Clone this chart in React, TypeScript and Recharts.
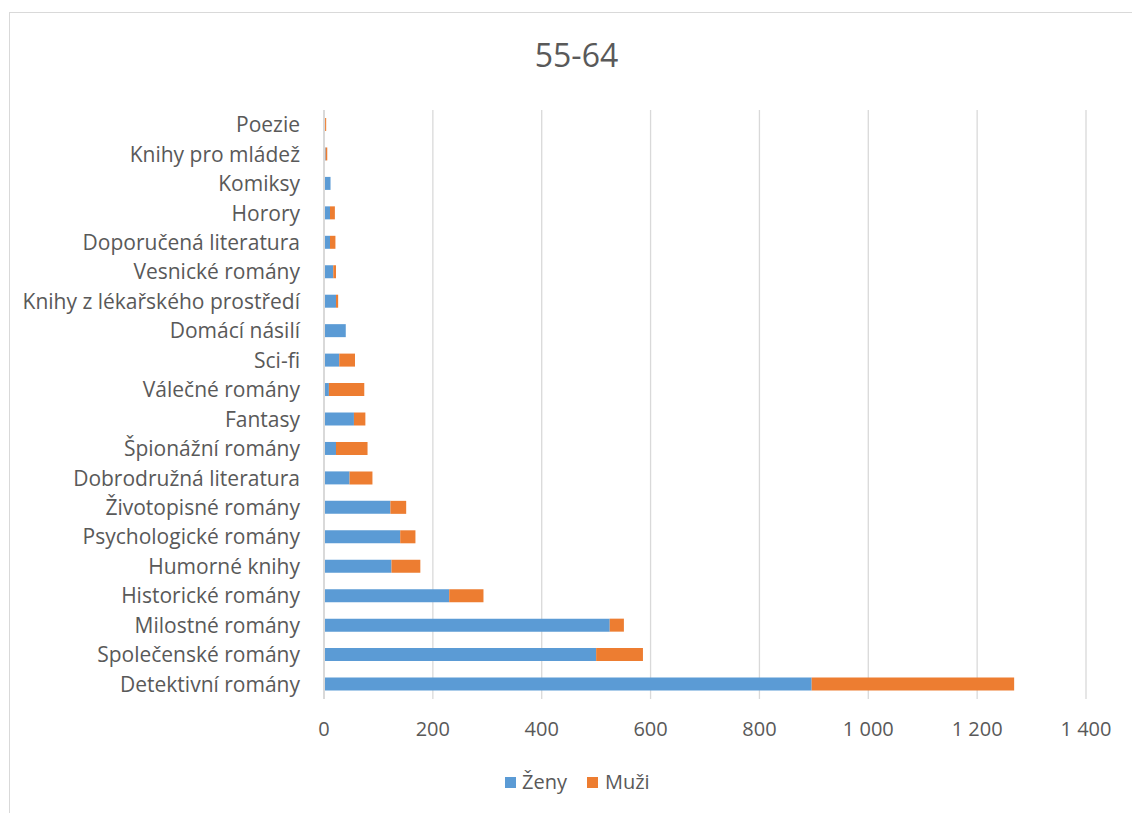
import React from 'react'
import { Bar, BarChart, CartesianGrid, XAxis, YAxis } from 'recharts'

// categories listed top to bottom as they appear in the chart
const categories = [
  'Poezie',
  'Knihy pro mládež',
  'Komiksy',
  'Horory',
  'Doporučená literatura',
  'Vesnické romány',
  'Knihy z lékařského prostředí',
  'Domácí násilí',
  'Sci-fi',
  'Válečné romány',
  'Fantasy',
  'Špionážní romány',
  'Dobrodružná literatura',
  'Životopisné romány',
  'Psychologické romány',
  'Humorné knihy',
  'Historické romány',
  'Milostné romány',
  'Společenské romány',
  'Detektivní romány',
]

const zeny = [2, 3, 12, 11, 11, 17, 22, 40, 28, 9, 55, 22, 47, 122, 140, 124, 230, 525, 500, 896]
const muzi = [2, 3, 0, 9, 10, 5, 4, 0, 29, 65, 21, 58, 42, 29, 28, 53, 63, 26, 86, 372]

const xTicks = [0, 200, 400, 600, 800, 1000, 1200, 1400]

const data = categories.map((name, i) => ({ name, zeny: zeny[i], muzi: muzi[i] }))

const FONT = '"Open Sans", sans-serif'
const TEXT = '#595959'

const fmt = (v: number) => String(v).replace(/\B(?=(\d{3})+(?!\d))/g, ' ')

export default function App() {
  return (
    <div
      style={{
        position: 'absolute',
        left: 9,
        top: 12,
        width: 1122,
        height: 800,
        borderLeft: '1px solid #d9d9d9',
        borderTop: '1px solid #d9d9d9',
        background: '#fff',
        fontFamily: FONT,
      }}
    >
      <div
        style={{
          position: 'absolute',
          left: 0,
          width: 1133,
          top: 22,
          textAlign: 'center',
          fontSize: 32,
          color: TEXT,
          lineHeight: '40px',
        }}
      >
        55-64
      </div>
      <BarChart
        width={1122}
        height={800}
        data={data}
        layout="vertical"
        barSize={13}
        margin={{ top: 97, right: 46, bottom: 74, left: 0 }}
      >
        <CartesianGrid horizontal={false} stroke="#d9d9d9" strokeWidth={1.3} />
        <XAxis
          type="number"
          domain={[0, 1400]}
          ticks={xTicks}
          tickFormatter={fmt}
          axisLine={false}
          tickLine={false}
          tickMargin={17}
          height={40}
          tick={{ fill: TEXT, fontSize: 20, fontFamily: FONT }}
        />
        <YAxis
          type="category"
          dataKey="name"
          width={314}
          interval={0}
          axisLine={{ stroke: '#d9d9d9', strokeWidth: 2 }}
          tickLine={false}
          tickMargin={18}
          tick={{ fill: TEXT, fontSize: 21, fontFamily: FONT }}
        />
        <Bar dataKey="zeny" stackId="a" fill="#5b9bd5" isAnimationActive={false} />
        <Bar dataKey="muzi" stackId="a" fill="#ed7d31" isAnimationActive={false} />
      </BarChart>
      <div
        style={{
          position: 'absolute',
          top: 756,
          left: 495,
          display: 'flex',
          alignItems: 'center',
          fontSize: 20,
          color: TEXT,
          lineHeight: '26px',
        }}
      >
        <span style={{ width: 11, height: 11, background: '#5b9bd5', marginRight: 6 }} />
        <span>Ženy</span>
        <span style={{ width: 11, height: 11, background: '#ed7d31', marginLeft: 20, marginRight: 7 }} />
        <span>Muži</span>
      </div>
    </div>
  )
}
